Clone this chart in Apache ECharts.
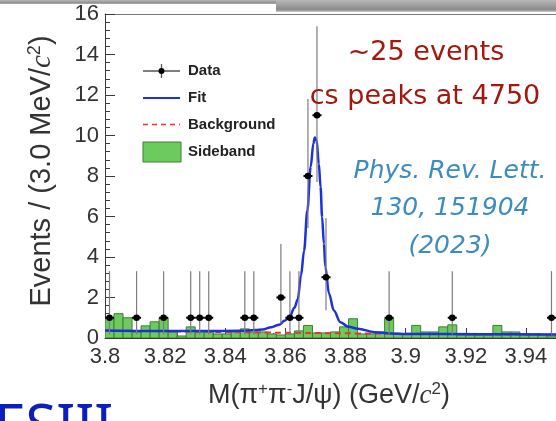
<!DOCTYPE html>
<html>
<head>
<meta charset="utf-8">
<script src="https://cdn.jsdelivr.net/npm/echarts@6/dist/echarts.min.js"></script>
<style>
  html, body { margin: 0; padding: 0; background: #fff; }
  #chart { width: 556px; height: 421px; }
</style>
</head>
<body>
<div id="chart"></div>
<script>
// Binning of the M(pi+ pi- J/psi) spectrum: 3 MeV bins starting at 3.80 GeV
const binStart = 3.8;
const binWidth = 0.003;

// Data points (bin centre, entries, 68% Poisson interval)
const dataMass = [3.8015, 3.8105, 3.8195, 3.8285, 3.8315, 3.8345, 3.8465, 3.8495, 3.8585,
                  3.8615, 3.8645, 3.8675, 3.8705, 3.8735, 3.8945, 3.9155, 3.9485];
const dataCounts = [1, 1, 1, 1, 1, 1, 1, 1, 2, 1, 1, 8, 11, 3, 1, 1, 1];
const dataErrLow = [0.17, 0.17, 0.17, 0.17, 0.17, 0.17, 0.17, 0.17, 0.71, 0.17, 0.17, 5.43, 7.7, 1.37, 0.17, 0.17, 0.17];
const dataErrHigh = [3.3, 3.3, 3.3, 3.3, 3.3, 3.3, 3.3, 3.3, 4.64, 3.3, 3.3, 11.8, 15.4, 5.92, 3.3, 3.3, 3.3];

// Normalised J/psi sideband, one value per bin (50 bins)
const sideband = [1.0, 1.2, 1.0, 0.3, 0.6, 0.8, 1.0, 0.3, 0.1, 0.55,
                  0.3, 0.3, 0.2, 0.2, 0.3, 0.45, 0.3, 0.3, 0.2, 0.15,
                  0.2, 0.35, 0.62, 0.25, 0.25, 0.3, 0.55, 0.95, 0.2, 0.2,
                  0.3, 0.95, 0.2, 0.2, 0.62, 0.3, 0.3, 0.55, 0.65, 0.15,
                  0.15, 0.15, 0.15, 0.62, 0.3, 0.3, 0.15, 0.15, 0.15, 0.1];

// Total fit curve
const fitMass = [3.800, 3.820, 3.833, 3.845, 3.850, 3.8524, 3.8553, 3.858, 3.8597, 3.8614,
                 3.863, 3.8641, 3.8652, 3.8662, 3.8673, 3.8684, 3.8693, 3.8698, 3.8704, 3.8711,
                 3.8717, 3.8722, 3.8728, 3.8733, 3.8745, 3.8761, 3.8783, 3.881, 3.8841, 3.8896,
                 3.8952, 3.900, 3.925, 3.950];
const fitValue = [0.37, 0.34, 0.34, 0.36, 0.39, 0.42, 0.53, 0.66, 0.85, 1.05,
                  1.5, 1.9, 3.1, 4.3, 6.3, 8.45, 9.6, 9.9, 9.75, 8.6,
                  7.46, 5.98, 4.66, 3.5, 2.19, 1.36, 0.78, 0.55, 0.46, 0.29,
                  0.22, 0.2, 0.19, 0.17];

// Background component
const bkgMass = [3.80, 3.83, 3.86, 3.89, 3.92, 3.95];
const bkgValue = [0.37, 0.31, 0.26, 0.22, 0.19, 0.16];

const axisColor = '#3a3a3a';
const labelColor = '#333';
const axisFont = 'Liberation Sans, Arial, Helvetica, sans-serif';
const noteFont = 'DejaVu Sans, sans-serif';

const chart = echarts.init(document.getElementById('chart'), null, { renderer: 'canvas' });

const sidebandData = sideband.map((v, k) => [binStart + k * binWidth, binStart + (k + 1) * binWidth, v]);
const pointData = dataMass.map((m, i) => [m, dataCounts[i], dataErrLow[i], dataErrHigh[i]]);

const headerGradient = () => new echarts.graphic.LinearGradient(0, 0, 0, 1, [
  { offset: 0, color: '#b8b8b8' }, { offset: 0.8, color: '#8a8a8a' }, { offset: 1, color: '#cfcfcf' }]);

chart.setOption({
  animation: false,
  backgroundColor: '#fff',
  grid: { left: 105, top: 14, right: -1, bottom: 83, show: false },
  xAxis: [{
    type: 'value', min: 3.8, max: 3.95, interval: 0.02,
    axisLine: { show: true, lineStyle: { color: axisColor, width: 1 } },
    axisTick: { show: true, inside: true, length: 10, lineStyle: { color: axisColor } },
    minorTick: { show: true, splitNumber: 5, length: 5, lineStyle: { color: axisColor } },
    splitLine: { show: false },
    axisLabel: { color: labelColor, fontSize: 22, fontFamily: axisFont, margin: 8, showMaxLabel: false,
                 formatter: v => String(+v.toFixed(2)) }
  }, {
    type: 'value', position: 'top', min: 3.8, max: 3.95,
    axisLine: { show: true, onZero: false, lineStyle: { color: '#777', width: 1 } },
    axisTick: { show: false }, axisLabel: { show: false }, splitLine: { show: false }
  }],
  yAxis: {
    type: 'value', min: 0, max: 16, interval: 2,
    axisLine: { show: true, lineStyle: { color: axisColor, width: 1 } },
    axisTick: { show: true, inside: true, length: 10, lineStyle: { color: axisColor } },
    minorTick: { show: true, splitNumber: 5, length: 5, lineStyle: { color: axisColor } },
    splitLine: { show: false },
    axisLabel: { color: labelColor, fontSize: 22, fontFamily: axisFont, margin: 6 }
  },
  series: [
    {
      name: 'Sideband', type: 'custom', z: 2, clip: true,
      data: sidebandData,
      renderItem: (params, api) => {
        const p0 = api.coord([api.value(0), 0]);
        const p1 = api.coord([api.value(1), api.value(2)]);
        return {
          type: 'rect',
          shape: { x: p0[0], y: p1[1], width: p1[0] - p0[0], height: p0[1] - p1[1] },
          style: { fill: '#6ccb5c', stroke: '#3e7f36', lineWidth: 1 }
        };
      }
    },
    {
      name: 'Background', type: 'line', z: 3, smooth: true, symbol: 'none',
      data: bkgMass.map((m, i) => [m, bkgValue[i]]),
      lineStyle: { color: '#e8362e', width: 2, type: [6, 4] }
    },
    {
      name: 'Fit', type: 'line', z: 4, smooth: 0.35, smoothMonotone: 'x', symbol: 'none',
      data: fitMass.map((m, i) => [m, fitValue[i]]),
      lineStyle: { color: '#1c30e0', width: 2.5 }
    },
    {
      name: 'Data', type: 'custom', z: 5, clip: true,
      data: pointData,
      renderItem: (params, api) => {
        const x = api.value(0), y = api.value(1);
        const c = api.coord([x, y]);
        const lo = api.coord([x, api.value(2)]);
        const hi = api.coord([x, api.value(3)]);
        const l = api.coord([x - binWidth / 2, y]);
        const r = api.coord([x + binWidth / 2, y]);
        return {
          type: 'group',
          children: [
            { type: 'line', shape: { x1: c[0], y1: lo[1], x2: c[0], y2: hi[1] },
              style: { stroke: '#7d7d7d', lineWidth: 1.2 } },
            { type: 'line', shape: { x1: l[0], y1: c[1], x2: r[0], y2: c[1] },
              style: { stroke: '#000', lineWidth: 2 } },
            { type: 'circle', shape: { cx: c[0], cy: c[1], r: 3.3 }, style: { fill: '#000' } }
          ]
        };
      }
    }
  ],
  graphic: [
    // slide header strip
    { type: 'rect', z: 100, shape: { x: 0, y: 0, width: 556, height: 4 }, style: { fill: headerGradient() } },
    { type: 'rect', z: 100, shape: { x: 276, y: 0, width: 280, height: 12 }, style: { fill: headerGradient() } },
    // y axis title
    { type: 'text', z: 100, x: 42, y: 171, rotation: Math.PI / 2,
      style: { text: '{a|Events / (3.0 MeV/}{i|c}{s|2}{a|)}', align: 'center', verticalAlign: 'middle',
        rich: {
          a: { fontSize: 29, fontFamily: axisFont, fill: labelColor },
          i: { fontSize: 29, fontFamily: 'Liberation Serif, Times New Roman, serif', fontStyle: 'italic', fill: labelColor },
          s: { fontSize: 18, fontFamily: axisFont, fill: labelColor, padding: [0, 0, 14, 0] }
        } } },
    // x axis title
    { type: 'text', z: 100, x: 329, y: 396,
      style: { text: '{a|M(π}{s|+}{a|π}{s|-}{a|J/ψ) (GeV/}{i|c}{s|2}{a|)}', align: 'center', verticalAlign: 'middle',
        rich: {
          a: { fontSize: 27, fontFamily: axisFont, fill: labelColor },
          i: { fontSize: 27, fontFamily: 'Liberation Serif, Times New Roman, serif', fontStyle: 'italic', fill: labelColor },
          s: { fontSize: 17, fontFamily: axisFont, fill: labelColor, padding: [0, 0, 13, 0] }
        } } },
    // legend
    { type: 'line', z: 100, shape: { x1: 143, y1: 71, x2: 180, y2: 71 }, style: { stroke: '#555', lineWidth: 1.3 } },
    { type: 'line', z: 100, shape: { x1: 161.5, y1: 64, x2: 161.5, y2: 78 }, style: { stroke: '#555', lineWidth: 1.3 } },
    { type: 'circle', z: 100, shape: { cx: 161.5, cy: 71, r: 3 }, style: { fill: '#000' } },
    { type: 'line', z: 100, shape: { x1: 143, y1: 98, x2: 180, y2: 98 }, style: { stroke: '#1c30e0', lineWidth: 2 } },
    { type: 'line', z: 100, shape: { x1: 143, y1: 124.5, x2: 180, y2: 124.5 }, style: { stroke: '#e8362e', lineWidth: 1.5, lineDash: [5, 4] } },
    { type: 'rect', z: 100, shape: { x: 143, y: 142, width: 38, height: 20 }, style: { fill: '#6ccb5c', stroke: '#3e7f36', lineWidth: 1 } },
    { type: 'text', z: 100, x: 188, y: 71, style: { text: 'Data', fontSize: 15, fontWeight: 'bold', fontFamily: axisFont, fill: '#222', verticalAlign: 'middle' } },
    { type: 'text', z: 100, x: 188, y: 98, style: { text: 'Fit', fontSize: 15, fontWeight: 'bold', fontFamily: axisFont, fill: '#222', verticalAlign: 'middle' } },
    { type: 'text', z: 100, x: 188, y: 124.5, style: { text: 'Background', fontSize: 15, fontWeight: 'bold', fontFamily: axisFont, fill: '#222', verticalAlign: 'middle' } },
    { type: 'text', z: 100, x: 188, y: 152, style: { text: 'Sideband', fontSize: 15, fontWeight: 'bold', fontFamily: axisFont, fill: '#222', verticalAlign: 'middle' } },
    // annotations
    { type: 'text', z: 100, x: 426, y: 53, style: { text: '~25 events', fontSize: 27, fontFamily: noteFont, fill: '#a3170d', align: 'center', verticalAlign: 'middle' } },
    { type: 'text', z: 100, x: 425, y: 97, style: { text: 'cs peaks at 4750', fontSize: 27, fontFamily: noteFont, fill: '#a3170d', align: 'center', verticalAlign: 'middle' } },
    { type: 'text', z: 100, x: 450, y: 171, style: { text: 'Phys. Rev. Lett.', fontSize: 25, fontStyle: 'italic', fontWeight: 200, fontFamily: noteFont, fill: '#3b8cc0', align: 'center', verticalAlign: 'middle' } },
    { type: 'text', z: 100, x: 450, y: 208, style: { text: '130, 151904', fontSize: 25, fontStyle: 'italic', fontWeight: 200, fontFamily: noteFont, fill: '#3b8cc0', align: 'center', verticalAlign: 'middle' } },
    { type: 'text', z: 100, x: 450, y: 246, style: { text: '(2023)', fontSize: 25, fontStyle: 'italic', fontWeight: 200, fontFamily: noteFont, fill: '#3b8cc0', align: 'center', verticalAlign: 'middle' } },
    // slide footer text, partly below the page edge
    { type: 'text', z: 100, x: -42, y: 401, style: { text: 'BESIII', fontSize: 56, fontFamily: 'Noto Sans, sans-serif', fill: '#0b1fbf', verticalAlign: 'top' } }
  ]
});
</script>
</body>
</html>
